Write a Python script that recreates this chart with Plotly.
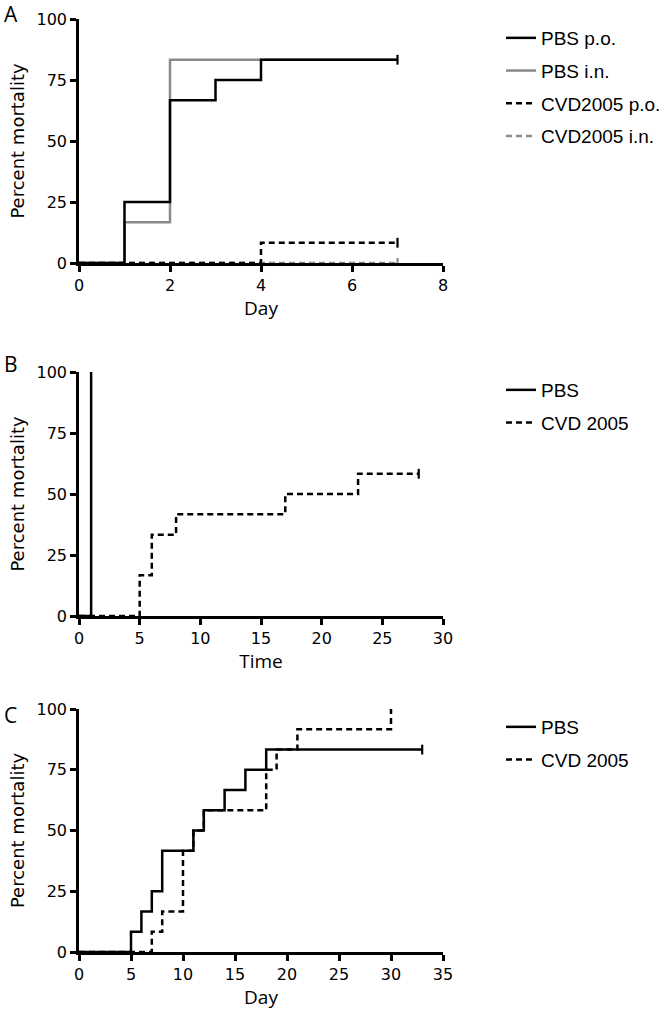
import plotly.graph_objects as go

# ---------------- Data ----------------
# Panel A
A_pbs_po_day = [0, 1, 2, 3, 4, 7]
A_pbs_po_val = [0, 25, 66.7, 75, 83.3, 83.3]
A_pbs_in_day = [0, 1, 2, 7]
A_pbs_in_val = [0, 16.7, 83.3, 83.3]
A_cvd_po_day = [0, 4, 7]
A_cvd_po_val = [0, 8.3, 8.3]
A_cvd_in_day = [0, 7]
A_cvd_in_val = [0, 0]
A_xticks = [0, 2, 4, 6, 8]

# Panel B
B_pbs_day = [0, 1]
B_pbs_val = [0, 100]
B_cvd_day = [0, 5, 6, 8, 17, 23, 28]
B_cvd_val = [0, 16.7, 33.3, 41.7, 50, 58.3, 58.3]
B_xticks = [0, 5, 10, 15, 20, 25, 30]

# Panel C
C_pbs_day = [0, 5, 6, 7, 8, 11, 12, 14, 16, 18, 33]
C_pbs_val = [0, 8.3, 16.7, 25, 41.7, 50, 58.3, 66.7, 75, 83.3, 83.3]
C_cvd_day = [0, 7, 8, 10, 11, 12, 18, 19, 21, 30]
C_cvd_val = [0, 8.3, 16.7, 41.7, 50, 58.3, 75, 83.3, 91.7, 100]
C_xticks = [0, 5, 10, 15, 20, 25, 30, 35]

Y_ticks = [0, 25, 50, 75, 100]

# ---------------- Styles ----------------
BLACK = "#000000"
GRAY = "#8a8a8a"
LW = 2.5
DASH = "6px,4px"
TICKFONT = dict(family="DejaVu Sans", size=16, color="black")
YTITLEFONT = dict(family="DejaVu Sans", size=18, color="black")
XTITLEFONT = dict(family="Open Sans", size=19, color="black")
LEGFONT = dict(family="Liberation Sans", size=19, color="black")

W, H = 666, 1010
def px(v):  # horizontal pixel -> paper
    return v / W
def py(v):  # vertical pixel -> paper
    return 1 - v / H

fig = go.Figure()

def step(x, y, name, color, dash, xa, ya, legend, rank, show=True):
    fig.add_trace(go.Scatter(
        x=x, y=y, mode="lines", name=name, line_shape="hv",
        line=dict(color=color, width=LW, dash=dash),
        xaxis=xa, yaxis=ya, legend=legend, legendrank=rank,
        legendgroup=name + legend, showlegend=show, hoverinfo="skip"))

def censor(x, y, color, xa, ya):
    fig.add_trace(go.Scatter(
        x=x, y=y, mode="markers", showlegend=False, hoverinfo="skip",
        marker=dict(symbol="line-ns", size=7, line=dict(color=color, width=2.2)),
        xaxis=xa, yaxis=ya))

# Panel A (draw gray first so black sits on top)
step(A_cvd_in_day, A_cvd_in_val, "CVD2005 i.n.", GRAY, DASH, "x", "y", "legend", 4)
step(A_pbs_in_day, A_pbs_in_val, "PBS i.n.", GRAY, "solid", "x", "y", "legend", 2)
step(A_cvd_po_day, A_cvd_po_val, "CVD2005 p.o.", BLACK, DASH, "x", "y", "legend", 3)
step(A_pbs_po_day, A_pbs_po_val, "PBS p.o.", BLACK, "solid", "x", "y", "legend", 1)
censor([A_cvd_in_day[-1]], [A_cvd_in_val[-1]], GRAY, "x", "y")
censor([A_cvd_po_day[-1], A_pbs_po_day[-1]], [A_cvd_po_val[-1], A_pbs_po_val[-1]], BLACK, "x", "y")

# Panel B
step(B_cvd_day, B_cvd_val, "CVD 2005", BLACK, DASH, "x2", "y2", "legend2", 2)
step(B_pbs_day, B_pbs_val, "PBS", BLACK, "solid", "x2", "y2", "legend2", 1)
censor([B_cvd_day[-1]], [B_cvd_val[-1]], BLACK, "x2", "y2")

# Panel C
step(C_cvd_day, C_cvd_val, "CVD 2005", BLACK, DASH, "x3", "y3", "legend3", 2)
step(C_pbs_day, C_pbs_val, "PBS", BLACK, "solid", "x3", "y3", "legend3", 1)
censor([C_pbs_day[-1]], [C_pbs_val[-1]], BLACK, "x3", "y3")

xdom = [px(79), px(443)]
ydoms = [[py(263), py(19)], [py(616), py(372)], [py(952), py(709)]]
xtitles = ["Day", "Time", "Day"]
xranges = [[0, 8], [0, 30], [0, 35]]
xtickss = [A_xticks, B_xticks, C_xticks]

axis_common = dict(showline=True, linecolor="black", linewidth=LW, ticks="outside",
                   ticklen=6, tickwidth=LW, tickcolor="black", showgrid=False,
                   zeroline=False, tickfont=TICKFONT, fixedrange=True, automargin=False)

layout = dict(width=W, height=H,
              margin=dict(l=0, r=0, t=0, b=0, pad=0, autoexpand=False),
              paper_bgcolor="white", plot_bgcolor="white", showlegend=True)

for i in range(3):
    sx = "" if i == 0 else str(i + 1)
    layout["xaxis" + sx] = dict(domain=xdom, range=xranges[i], tickvals=xtickss[i],
                                anchor="y" + sx,
                                title=dict(text=xtitles[i], font=XTITLEFONT, standoff=4),
                                **axis_common)
    layout["yaxis" + sx] = dict(domain=ydoms[i], range=[0, 100], tickvals=Y_ticks,
                                anchor="x" + sx,
                                title=dict(text="Percent mortality", font=YTITLEFONT, standoff=8),
                                **axis_common)

leg_common = dict(font=LEGFONT, bgcolor="rgba(0,0,0,0)", xanchor="left", yanchor="top",
                  traceorder="grouped", tracegroupgap=5, itemwidth=30)
layout["legend"] = dict(x=px(501), y=py(19), **leg_common)
layout["legend2"] = dict(x=px(501), y=py(371), **leg_common)
layout["legend3"] = dict(x=px(501), y=py(708), **leg_common)

fig.update_layout(**layout)

for letter, yy in [("A", 14), ("B", 364), ("C", 715)]:
    fig.add_annotation(text=letter, x=px(2), y=py(yy), xref="paper", yref="paper",
                       xanchor="left", yanchor="middle", showarrow=False,
                       font=dict(family="Open Sans", size=21, color="black"))

fig.write_html("out.html", config={"displayModeBar": False},
               post_script="document.body.style.margin='0';document.body.style.padding='0';")
